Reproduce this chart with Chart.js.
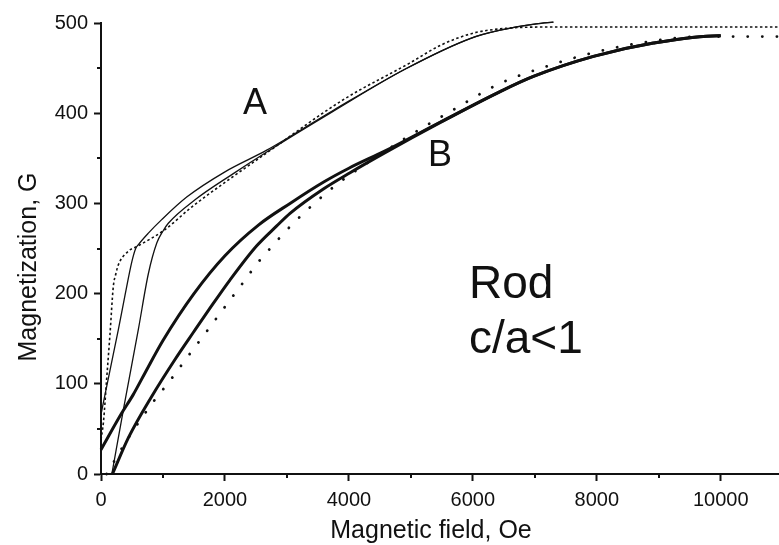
<!DOCTYPE html>
<html>
<head>
<meta charset="utf-8">
<script src="https://cdn.jsdelivr.net/npm/chart.js@4.4.1/dist/chart.umd.min.js"></script>
<style>
  html, body { margin: 0; padding: 0; background: #fff; }
  canvas { display: block; }
</style>
</head>
<body>
<canvas id="c" width="779" height="545"></canvas>
<script>
// Axis ticks (field in Oe, magnetization in G)
const xMajorTicks = [0, 2000, 4000, 6000, 8000, 10000];
const xMinorTicks = [1000, 3000, 5000, 7000, 9000];
const yMajorTicks = [0, 100, 200, 300, 400, 500];
const yMinorTicks = [50, 150, 250, 350, 450];

// Sample A: thin solid branches and short-dash curve, [H, M]
const sampleA_upper = [[0,66],[145,115],[280,160],[387,198],[500,236],[560,250],[600,254],[764,267],[979,282],[1383,307],[2000,335],[2674,359],[3744,403],[4911,449],[5966,483],[6440,492],[7022,499],[7300,501]];
const sampleA_lower = [[175,0],[371,75],[602,160],[764,222],[900,256],[1006,270],[1086,278],[1517,304],[2135,333],[2674,357],[3744,402],[4911,449],[5966,483],[6440,492],[7022,499],[7300,501]];
const sampleA_dashed = [[0,38],[40,58],[92,106],[145,155],[199,208],[240,222],[280,232],[441,247],[602,253],[1033,271],[1463,296],[1974,322],[2674,356],[3911,415],[4966,455],[5500,476],[6022,489],[6440,493.5],[7079,495.5],[10950,495.5]];

// Sample B: thick solid branches and dotted curve, [H, M]
const sampleB_upper = [[0,27],[330,67],[520,88],[710,112],[1000,148],[1500,200],[2000,242],[2540,276],[3050,300],[3600,324],[4000,339],[4577,358],[5470,390],[6440,424],[6977,440.8],[7946,463],[8914,477.8],[9963,486],[10000,486]];
const sampleB_lower = [[185,0],[441,40],[818,86],[1194,127],[1500,158],[1750,183],[2080,215],[2513,253],[2836,275],[3050,289],[3588,316],[4019,334],[4577,356],[5470,389.5],[6440,424],[6977,440.8],[7946,463],[8914,477.8],[9963,486],[10000,486]];
const sampleB_dotted = [[90,0],[441,40],[844,80],[1130,105],[1409,131],[1705,158],[1974,183],[2269,210],[2539,235],[2716,249],[3061,275],[3427,299],[3804,321],[4500,354],[5000,376],[5690,404],[6440,433],[7193,452],[8000,468],[8807,479],[9668,485],[10950,485]];

const INK = '#111';
const FONT = '"Liberation Sans", Arial, Helvetica, sans-serif';

function toXY(arr) { return arr.map(p => ({ x: p[0], y: p[1] })); }

function curve(arr, width, dash, cap) {
  return {
    data: toXY(arr),
    borderColor: INK,
    borderWidth: width,
    borderDash: dash || [],
    borderCapStyle: cap || 'butt',
    borderJoinStyle: 'round',
    pointRadius: 0,
    fill: false,
    cubicInterpolationMode: 'monotone',
    clip: false
  };
}

// Minor tick marks, axis titles and in-plot labels
const decorations = {
  id: 'decorations',
  afterDraw(chart) {
    const { ctx, scales: { x, y } } = chart;
    ctx.save();
    ctx.strokeStyle = INK;
    ctx.lineWidth = 2;
    ctx.beginPath();
    xMinorTicks.forEach(v => {
      const px = Math.round(x.getPixelForValue(v));
      ctx.moveTo(px, y.bottom);
      ctx.lineTo(px, y.bottom + 4);
    });
    yMinorTicks.forEach(v => {
      const py = Math.round(y.getPixelForValue(v));
      ctx.moveTo(x.left, py);
      ctx.lineTo(x.left - 4, py);
    });
    ctx.stroke();

    ctx.fillStyle = INK;
    ctx.font = '25px ' + FONT;
    ctx.textAlign = 'center';
    ctx.textBaseline = 'alphabetic';
    ctx.fillText('Magnetic field, Oe', 431, 538);

    ctx.save();
    ctx.translate(36, 267);
    ctx.rotate(-Math.PI / 2);
    ctx.fillText('Magnetization, G', 0, 0);
    ctx.restore();

    ctx.textAlign = 'left';
    ctx.font = '36px ' + FONT;
    ctx.fillText('A', x.getPixelForValue(2291), y.getPixelForValue(399));
    ctx.fillText('B', x.getPixelForValue(5277), y.getPixelForValue(341.5));
    ctx.font = '46px ' + FONT;
    ctx.fillText('Rod', x.getPixelForValue(5938), y.getPixelForValue(195));
    ctx.fillText('c/a<1', x.getPixelForValue(5938), y.getPixelForValue(134));
    ctx.restore();
  }
};

const majorColor = (list) => (c) => (c.tick && list.includes(c.tick.value)) ? INK : 'rgba(0,0,0,0)';

new Chart(document.getElementById('c'), {
  type: 'line',
  data: {
    datasets: [
      curve(sampleA_upper, 1.3),
      curve(sampleA_lower, 1.3),
      curve(sampleA_dashed, 1.6, [2.5, 2.5]),
      curve(sampleB_upper, 3),
      curve(sampleB_lower, 3),
      curve(sampleB_dotted, 2.8, [0.1, 14.5], 'round')
    ]
  },
  options: {
    responsive: false,
    animation: false,
    devicePixelRatio: 1,
    layout: { padding: { top: 23, right: 0, bottom: 0, left: 0 } },
    plugins: { legend: { display: false }, tooltip: { enabled: false } },
    scales: {
      x: {
        type: 'linear',
        min: 0,
        max: 10940,
        afterBuildTicks(scale) {
          scale.ticks = xMajorTicks.concat(xMinorTicks).sort((a, b) => a - b).map(v => ({ value: v }));
        },
        afterFit(scale) { scale.height = 71; },
        ticks: {
          autoSkip: false,
          maxRotation: 0,
          padding: 7,
          color: INK,
          font: { family: FONT, size: 20 },
          callback: (v) => xMajorTicks.includes(v) ? String(v) : ''
        },
        grid: {
          display: true,
          drawOnChartArea: false,
          drawTicks: true,
          tickLength: 7,
          tickWidth: 2,
          tickColor: majorColor(xMajorTicks)
        },
        border: { display: true, color: INK, width: 2 }
      },
      y: {
        type: 'linear',
        min: 0,
        max: 500,
        afterBuildTicks(scale) {
          scale.ticks = yMajorTicks.concat(yMinorTicks).sort((a, b) => a - b).map(v => ({ value: v }));
        },
        afterFit(scale) { scale.width = 101; },
        ticks: {
          autoSkip: false,
          padding: 6,
          color: INK,
          font: { family: FONT, size: 20 },
          callback: (v) => yMajorTicks.includes(v) ? String(v) : ''
        },
        grid: {
          display: true,
          drawOnChartArea: false,
          drawTicks: true,
          tickLength: 7,
          tickWidth: 2,
          tickColor: majorColor(yMajorTicks)
        },
        border: { display: true, color: INK, width: 2 }
      }
    }
  },
  plugins: [decorations]
});
</script>
</body>
</html>
